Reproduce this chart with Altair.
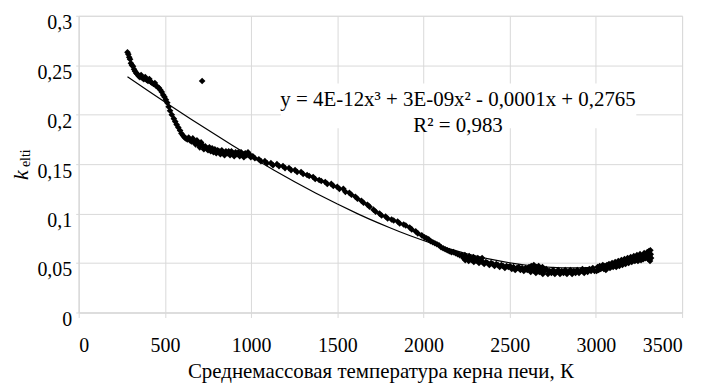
import altair as alt
import pandas as pd

# --- data -----------------------------------------------------------------
seg1_x = [283, 288, 293, 298, 303, 309, 315, 321, 327, 334, 341, 348, 355, 362, 370, 378, 386,
          394, 402, 410, 418, 426, 434, 442, 450, 458, 466, 474, 482, 490, 498, 506, 514]
seg1_y = [0.263, 0.261, 0.258, 0.256, 0.252, 0.250, 0.249, 0.246, 0.244, 0.242, 0.241, 0.239,
          0.238, 0.240, 0.237, 0.236, 0.238, 0.235, 0.234, 0.236, 0.233, 0.232, 0.231, 0.232,
          0.229, 0.228, 0.227, 0.225, 0.223, 0.220, 0.218, 0.215, 0.212]

seg2_x = [522, 530, 540, 552, 560, 568, 578, 588, 596, 605, 614, 622, 630, 638, 646, 654, 662,
          670, 678, 686, 694, 702, 710, 718, 726, 734, 742, 750, 758]
seg2_y = [0.208, 0.204, 0.200, 0.196, 0.193, 0.190, 0.187, 0.184, 0.181, 0.179, 0.177, 0.176,
          0.175, 0.177, 0.174, 0.173, 0.176, 0.172, 0.170, 0.174, 0.170, 0.167, 0.172, 0.169,
          0.165, 0.168, 0.166, 0.164, 0.167]

seg3_x = [766, 774, 782, 790, 798, 806, 814, 822, 830, 838, 846, 854, 862, 870, 878, 886, 894,
          902, 910, 918, 926, 934, 942, 950, 958, 966, 974, 982, 990, 998]
seg3_y = [0.163, 0.166, 0.162, 0.165, 0.161, 0.164, 0.163, 0.160, 0.164, 0.162, 0.159, 0.163,
          0.161, 0.163, 0.159, 0.163, 0.161, 0.158, 0.162, 0.160, 0.162, 0.158, 0.162, 0.160,
          0.157, 0.161, 0.159, 0.162, 0.160, 0.157]

seg4_x = [1010, 1022, 1045, 1057, 1080, 1092, 1115, 1127, 1150, 1162, 1185, 1197, 1220, 1232,
          1255, 1267, 1290, 1302, 1325, 1337, 1360, 1372, 1395, 1407, 1430, 1442, 1465, 1477,
          1500, 1512, 1535, 1547, 1570, 1582, 1605, 1617, 1640, 1652, 1675, 1687, 1710, 1722,
          1745, 1757, 1780, 1792, 1815, 1827, 1850, 1862, 1885, 1897, 1920, 1932, 1955, 1967,
          1990]
seg4_y = [0.158, 0.156, 0.155, 0.153, 0.153, 0.151, 0.151, 0.149, 0.150, 0.148, 0.148, 0.146,
          0.146, 0.144, 0.144, 0.142, 0.142, 0.140, 0.139, 0.138, 0.137, 0.135, 0.134, 0.133,
          0.132, 0.130, 0.130, 0.128, 0.127, 0.125, 0.125, 0.122, 0.121, 0.119, 0.117, 0.115,
          0.113, 0.111, 0.109, 0.107, 0.104, 0.102, 0.100, 0.098, 0.097, 0.095, 0.094, 0.093,
          0.092, 0.090, 0.089, 0.088, 0.086, 0.084, 0.082, 0.080, 0.078]

seg5_x = [2006, 2018, 2030, 2042, 2054, 2066, 2078, 2090, 2102, 2114, 2126, 2138, 2150, 2162,
          2174, 2186, 2198, 2210, 2222, 2240, 2265, 2290, 2315, 2340]
seg5_y = [0.076, 0.075, 0.074, 0.072, 0.071, 0.070, 0.069, 0.068, 0.066, 0.065, 0.064, 0.063,
          0.062, 0.061, 0.061, 0.060, 0.059, 0.058, 0.058, 0.058, 0.057, 0.056, 0.055, 0.055]

seg6_x = [2232, 2242, 2252, 2262, 2272, 2282, 2292, 2302, 2312, 2322, 2332, 2342, 2352, 2362,
          2372, 2382, 2392, 2402, 2412, 2422, 2432, 2442, 2452, 2462, 2472, 2482, 2492]
seg6_y = [0.055, 0.053, 0.055, 0.052, 0.054, 0.053, 0.051, 0.053, 0.052, 0.050, 0.052, 0.051,
          0.049, 0.051, 0.050, 0.048, 0.050, 0.049, 0.047, 0.049, 0.048, 0.046, 0.048, 0.047,
          0.045, 0.047, 0.046]

seg7_x = [2502, 2512, 2522, 2532, 2542, 2552, 2562, 2572, 2582, 2592, 2602, 2612, 2622, 2632,
          2642, 2652, 2662, 2672, 2682, 2692, 2702, 2712, 2722, 2732, 2742, 2752, 2762, 2772,
          2782, 2792, 2802, 2812, 2822, 2832, 2842, 2852, 2862, 2872, 2882, 2892, 2902, 2912,
          2922, 2932, 2942, 2952, 2962, 2972, 2982, 2992, 2625, 2640, 2655, 2668, 2690]
seg7_y = [0.047, 0.044, 0.046, 0.043, 0.045, 0.046, 0.043, 0.045, 0.042, 0.045, 0.043, 0.046,
          0.041, 0.044, 0.042, 0.040, 0.044, 0.041, 0.043, 0.039, 0.042, 0.044, 0.039, 0.042,
          0.040, 0.043, 0.039, 0.041, 0.043, 0.039, 0.042, 0.040, 0.043, 0.039, 0.041, 0.043,
          0.039, 0.042, 0.040, 0.043, 0.040, 0.042, 0.044, 0.040, 0.043, 0.041, 0.044, 0.042,
          0.045, 0.042, 0.047, 0.048, 0.046, 0.047, 0.046]

seg8_x = [3004, 3010, 3016, 3022, 3028, 3034, 3040, 3046, 3052, 3058, 3064, 3070, 3076, 3082,
          3088, 3094, 3100, 3106, 3112, 3118, 3124, 3130, 3136, 3142, 3148, 3154, 3160, 3166,
          3172, 3178, 3184, 3190, 3196, 3202, 3208, 3214, 3220, 3226, 3232, 3238, 3244, 3250,
          3256, 3262, 3268, 3274, 3280, 3286, 3292, 3298, 3304, 3308, 3312, 3316, 3318, 3320,
          3314, 3306]
seg8_y = [0.042, 0.046, 0.043, 0.047, 0.044, 0.045, 0.048, 0.044, 0.047, 0.043, 0.048, 0.046,
          0.049, 0.045, 0.047, 0.050, 0.046, 0.048, 0.051, 0.046, 0.049, 0.052, 0.047, 0.050,
          0.053, 0.048, 0.051, 0.054, 0.049, 0.052, 0.055, 0.050, 0.053, 0.056, 0.051, 0.054,
          0.057, 0.052, 0.055, 0.058, 0.052, 0.056, 0.059, 0.053, 0.057, 0.054, 0.060, 0.055,
          0.058, 0.061, 0.054, 0.062, 0.057, 0.063, 0.059, 0.055, 0.052, 0.058]

outlier_x = [716]
outlier_y = [0.234]

x_ticks = [0, 500, 1000, 1500, 2000, 2500, 3000, 3500]
y_ticks = [0, 0.05, 0.1, 0.15, 0.2, 0.25, 0.3]

eq_text = "y = 4E-12x³ + 3E-09x² - 0,0001x + 0,2765"
r2_text = "R² = 0,983"
x_title = "Среднемассовая температура керна печи, К"

# --- chart ----------------------------------------------------------------
xs = seg1_x + seg2_x + seg3_x + seg4_x + seg5_x + seg6_x + seg7_x + seg8_x + outlier_x
ys = seg1_y + seg2_y + seg3_y + seg4_y + seg5_y + seg6_y + seg7_y + seg8_y + outlier_y
df = pd.DataFrame({"t": xs, "k": ys})

FONT = "Liberation Serif, Times New Roman, serif"
GRID = "#d9d9d9"
W, H = 606, 298

x_enc = alt.X("t:Q", scale=alt.Scale(domain=[0, 3500], nice=False),
              axis=alt.Axis(values=x_ticks, format="d", title=x_title, labelFont=FONT,
                            labelFontSize=20, labelColor="black", labelBaseline="alphabetic",
                            labelPadding=34, tickSize=5, tickColor=GRID, domainColor=GRID,
                            gridColor=GRID, titleFont=FONT, titleFontSize=21,
                            titleFontWeight="normal", titleColor="black", titleX=W / 2,
                            titleY=65, titleBaseline="alphabetic", titleAlign="center"))
y_enc = alt.Y("k:Q", scale=alt.Scale(domain=[0, 0.3], nice=False),
              axis=alt.Axis(values=y_ticks, title=None, labelFont=FONT, labelFontSize=20,
                            labelColor="black", labelBaseline="alphabetic", labelOffset=13,
                            labelPadding=4, tickSize=3, tickColor=GRID, domainColor=GRID,
                            gridColor=GRID,
                            labelExpr="replace(toString(datum.value), '.', ',')"))

base = alt.Chart(df)
points = base.mark_point(shape="diamond", filled=True, size=44, color="black",
                         opacity=1).encode(x=x_enc, y=y_enc)
trend = base.transform_regression("t", "k", method="poly", order=3).mark_line(
    color="black", strokeWidth=1.2).encode(x="t:Q", y="k:Q")

one = alt.Chart(pd.DataFrame({"a": [0]}))
box = one.mark_rect(color="white").encode(x=alt.value(203), x2=alt.value(560),
                                          y=alt.value(68), y2=alt.value(113))
eq = one.mark_text(text=eq_text, font=FONT, fontSize=21, color="black", align="center",
                   baseline="alphabetic").encode(x=alt.value(381), y=alt.value(91))
r2 = one.mark_text(text=r2_text, font=FONT, fontSize=21, color="black", align="center",
                   baseline="alphabetic").encode(x=alt.value(381), y=alt.value(117))
k_lab = one.mark_text(text="k", font=FONT, fontSize=22, fontStyle="italic", color="black",
                      angle=270, align="center", baseline="alphabetic").encode(
    x=alt.value(-51), y=alt.value(160))
sub_lab = one.mark_text(text="elti", font=FONT, fontSize=14, color="black",
                        angle=270, align="center", baseline="alphabetic").encode(
    x=alt.value(-49), y=alt.value(143))

chart = alt.layer(points, trend, box, eq, r2, k_lab, sub_lab).properties(
    width=W, height=H,
    autosize=alt.AutoSizeParams(type="none"),
    padding={"left": 71, "top": 7, "right": 22, "bottom": 72},
).configure_view(stroke=None).configure(background="white")

chart.save("out.html", embed_options={"renderer": "svg", "actions": False})
